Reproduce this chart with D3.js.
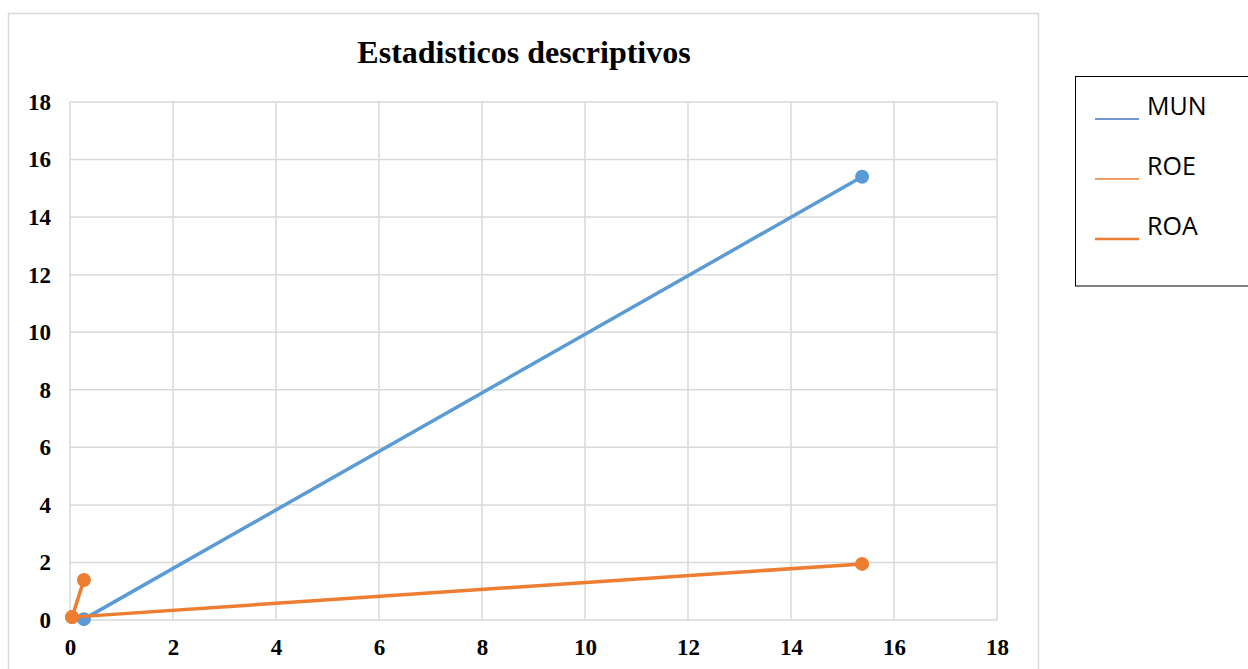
<!DOCTYPE html>
<html><head><meta charset="utf-8">
<script src="https://cdn.jsdelivr.net/npm/d3@7"></script>
<style>body{margin:0;background:#fff;}svg{display:block;}</style>
</head><body>
<svg id="c" width="1248" height="669"></svg>
<script>
const title = "Estadisticos descriptivos";
const seriesNames = ["MUN", "ROE", "ROA"];
const munX = [0.27, 15.38];
const munY = [0.03, 15.4];
const roeX = [0.04, 0.27];
const roeY = [0.1, 1.39];
const roaX = [0.04, 15.38];
const roaY = [0.1, 1.95];
const xTicks = [0, 2, 4, 6, 8, 10, 12, 14, 16, 18];
const yTicks = [0, 2, 4, 6, 8, 10, 12, 14, 16, 18];

const svg = d3.select("#c");
const x = d3.scaleLinear().domain([0, 18]).range([70, 997]);
const y = d3.scaleLinear().domain([0, 18]).range([620, 102]);
const grid = "#d9d9d9";

// outer chart border
svg.append("rect").attr("x", 8.5).attr("y", 13.5).attr("width", 1030).attr("height", 700)
  .attr("fill", "none").attr("stroke", grid).attr("stroke-width", 1.5);

// gridlines
svg.append("g").selectAll("line").data(xTicks).join("line")
  .attr("x1", d => x(d)).attr("x2", d => x(d)).attr("y1", y(18)).attr("y2", y(0))
  .attr("stroke", grid).attr("stroke-width", 1.5);
svg.append("g").selectAll("line").data(yTicks).join("line")
  .attr("x1", x(0)).attr("x2", x(18)).attr("y1", d => y(d)).attr("y2", d => y(d))
  .attr("stroke", grid).attr("stroke-width", 1.5);

// axes labels via d3 axes
const fontSerif = "'Liberation Serif','Times New Roman',serif";
const xa = svg.append("g").attr("transform", `translate(0,${y(0)})`)
  .call(d3.axisBottom(x).tickValues(xTicks).tickSize(0).tickPadding(19).tickFormat(d3.format("d")));
xa.select(".domain").remove();
xa.selectAll("text").attr("font-family", fontSerif).attr("font-weight", "bold").attr("font-size", 23).attr("fill", "#000");
const ya = svg.append("g").attr("transform", `translate(${x(0)},0)`)
  .call(d3.axisLeft(y).tickValues(yTicks).tickSize(0).tickPadding(19).tickFormat(d3.format("d")));
ya.select(".domain").remove();
ya.selectAll("text").attr("font-family", fontSerif).attr("font-weight", "bold").attr("font-size", 23).attr("fill", "#000");

// title
svg.append("text").attr("x", 524).attr("y", 63).attr("text-anchor", "middle")
  .attr("font-family", fontSerif).attr("font-weight", "bold").attr("font-size", 32).text(title);

const blue = "#5b9bd5", orange = "#ed7d31";
const series = [
  {name: seriesNames[0], xs: munX, ys: munY, color: blue},
  {name: seriesNames[2], xs: roaX, ys: roaY, color: orange},
  {name: seriesNames[1], xs: roeX, ys: roeY, color: orange}
];
const line = d3.line().x(d => x(d[0])).y(d => y(d[1]));
series.forEach(s => {
  const pts = s.xs.map((v, i) => [v, s.ys[i]]);
  svg.append("path").datum(pts).attr("d", line).attr("fill", "none")
    .attr("stroke", s.color).attr("stroke-width", 3.5);
  svg.append("g").selectAll("circle").data(pts).join("circle")
    .attr("cx", d => x(d[0])).attr("cy", d => y(d[1])).attr("r", 7).attr("fill", s.color);
});

// legend
svg.append("rect").attr("x", 1075.5).attr("y", 76.5).attr("width", 200).attr("height", 209.5)
  .attr("fill", "#fff").attr("stroke", "#000").attr("stroke-width", 1);
const legColors = ["#4472c4", "#ed7d31", "#ed7d31"];
const legWidths = [1.5, 1.5, 2.5];
seriesNames.forEach((n, i) => {
  const yy = 119 + i * 60;
  svg.append("line").attr("x1", 1095).attr("x2", 1139).attr("y1", yy).attr("y2", yy)
    .attr("stroke", legColors[i]).attr("stroke-width", legWidths[i]);
  svg.append("text").attr("x", 1147).attr("y", yy - 4)
    .attr("font-family", "'Open Sans','Liberation Sans',sans-serif").attr("font-size", 25)
    .attr("fill", "#000").text(n);
});
</script>
</body></html>
